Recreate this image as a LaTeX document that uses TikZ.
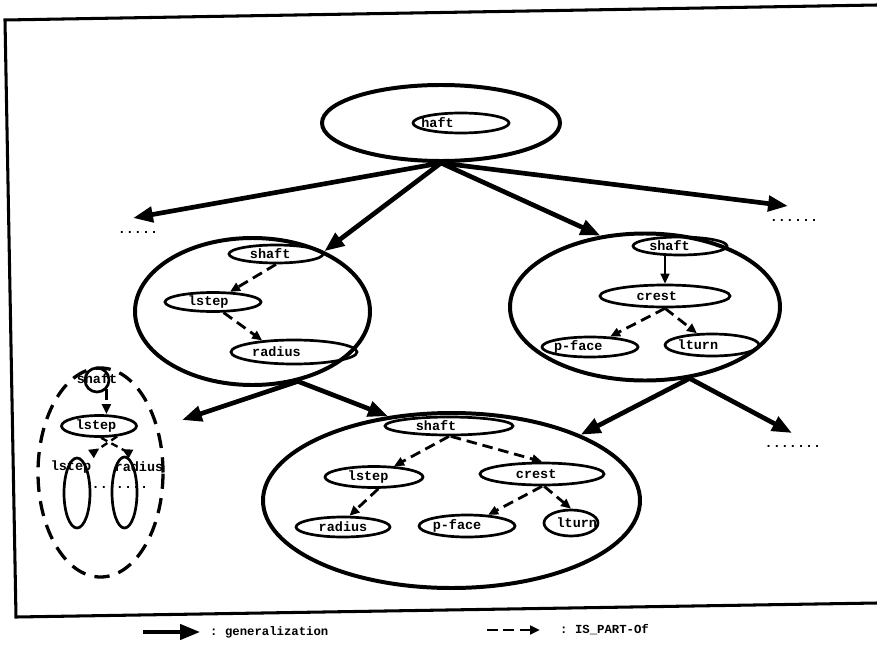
\documentclass[tikz,border=0pt]{standalone}
\usepackage{fontspec}
\setmonofont{Liberation Mono}
\usetikzlibrary{arrows.meta,shapes.geometric}

\begin{document}
\begin{tikzpicture}[x=0.03cm,y=-0.03cm,
  lbl/.style={font=\ttfamily\bfseries\fontsize{11.5}{13}\selectfont, inner sep=0pt},
  leg/.style={font=\ttfamily\bfseries\fontsize{10.5}{12}\selectfont, inner sep=0pt},
  oval/.style n args={2}{ellipse, draw, line width=2.3pt, inner sep=0pt,
    minimum width=#1*0.03cm, minimum height=#2*0.03cm},
  big/.style n args={2}{ellipse, draw, line width=3.4pt, inner sep=0pt,
    minimum width=#1*0.03cm, minimum height=#2*0.03cm},
  gen/.style={line width=4pt, -{Triangle[length=17pt,width=13pt]}},
  part/.style={line width=2.4pt, dash pattern=on 9pt off 5pt,
    -{Triangle[length=8.5pt,width=7.5pt]}},
  backpart/.style={line width=2pt, dash pattern=on 6pt off 4pt,
    -{Triangle[reversed,length=8.5pt,width=8pt]}},
  solidpart/.style={line width=1.8pt, -{Triangle[length=8.5pt,width=7.5pt]}},
]
\useasboundingbox (0,0) rectangle (877,650);

% frame
\draw[line width=2.6pt, line join=miter] (877,5) -- (5,20) -- (16,617) -- (877,603);

% root concept
\node[big={238}{76}] (top) at (441,123) {};
\node[oval={96}{20}, label={[lbl,xshift=-20pt]center:haft}] (h0) at (461,123) {};

% left specialisation
\node[big={235}{147}] (ml) at (252.5,311.5) {};
\node[oval={94}{18},  label={[lbl,xshift=-5pt]center:shaft}]  (s1) at (276,254) {};
\node[oval={96}{19},  label={[lbl,xshift=-4pt]center:lstep}]  (l1) at (213,302) {};
\node[oval={126}{24}, label={[lbl,xshift=-15pt]center:radius}] (r1) at (294,352) {};

% right specialisation
\node[big={270}{147}] (mr) at (645,307) {};
\node[oval={94}{18},  label={[lbl,xshift=-9pt]center:shaft}]  (s2) at (680,246) {};
\node[oval={130}{22}, label={[lbl,xshift=-7pt]center:crest}]  (c2) at (665,296) {};
\node[oval={96}{20},  label={[lbl,xshift=-10pt]center:p-face}] (p2) at (590,347) {};
\node[oval={94}{22},  label={[lbl,xshift=-12pt]center:lturn}]  (t2) at (712,345) {};

% combined concept
\node[big={377}{175}] (bt) at (451.5,500.5) {};
\node[oval={128}{18}, label={[lbl,xshift=-11pt]center:shaft}]  (s3) at (449,426) {};
\node[oval={98}{21},  label={[lbl,xshift=-5pt]center:lstep}]   (l3) at (374,477) {};
\node[oval={124}{22}, label={[lbl,xshift=-5pt]center:crest}]   (c3) at (542,474) {};
\node[oval={94}{20},  label={[lbl]center:radius}]              (r3) at (343,527) {};
\node[oval={96}{22},  label={[lbl,xshift=-8.5pt]center:p-face}] (p3) at (467,526) {};
\node[oval={54}{26},  label={[lbl,xshift=5pt]center:lturn}]    (t3) at (571,523) {};

% small inset on the left
\node[lbl] (tl) at (71,467) {lstep};
\node[lbl] (tr) at (139,467) {radius};
\node[lbl, anchor=base] (dd) at (120,488) {.......};
\node[lbl] (tc) at (97,379) {shaft};
\node[circle, draw, line width=2.3pt, minimum size=24*0.03cm, inner sep=0pt] (cc) at (97,380) {};
\node[oval={75}{21}, label={[lbl,xshift=-2.5pt]center:lstep}] (ll) at (99,426) {};
\node[oval={26}{70}] (e1) at (77,493) {};
\node[oval={25}{71}] (e2) at (124.5,492.5) {};
\node[ellipse, draw, line width=2.8pt, dash pattern=on 13pt off 8pt, inner sep=0pt,
  minimum width=125*0.03cm, minimum height=209*0.03cm] (ld) at (100.5,472.5) {};
\coordinate (k1) at (91,454);
\coordinate (k2) at (131,454);
\draw[part] (cc.south east) -- (cc.south east |- ll.north);
\draw[backpart] (ll.-30) -- (k1);
\draw[backpart] (ll.-80) -- (k2);

% continuation marks
\node[lbl, anchor=base] (dl0) at (138,233) {.....};
\node[lbl, anchor=base] (dr0) at (794,221) {......};
\node[lbl, anchor=base] (dr1) at (793,447) {.......};
\coordinate (dl) at (133,218);
\coordinate (dr) at (788,206);
\coordinate (dl2) at (182,420);
\coordinate (dr2) at (792,433);

% generalization links
\draw[gen] (top.south) -- (dl);
\draw[gen] (top.south) -- (ml.40);
\draw[gen] (top.south) -- (mr.122);
\draw[gen] (top.south) -- (dr);
\draw[gen] (ml.-57) -- (dl2);
\draw[gen] (ml.-57) -- (bt.127);
\draw[gen] (mr.-58) -- (bt.27);
\draw[gen] (mr.-58) -- (dr2);

% part-of links
\draw[part] (s1.south) -- (l1);
\draw[part] (l1.-45) -- (r1.160);
\draw[solidpart] (c2.north |- s2.south) -- (c2.north);
\draw[part] (c2.south) -- (p2);
\draw[part] (c2.south) -- (t2);
\draw[part] (s3.south) -- (l3);
\draw[part] (s3.-80) -- (c3.north);
\draw[part] (l3.-70) -- (r3.60);
\draw[part] (c3.south) -- (p3);
\draw[part] (c3.-80) -- (t3.north);

% legend
\coordinate (ga) at (143,632);
\coordinate (gb) at (200,632);
\node[leg, anchor=west] (gl) at (210,632) {: generalization};
\draw[gen, line width=3pt] (ga) -- (gb);
\coordinate (pa) at (487,630);
\coordinate (pb) at (540,630);
\node[leg, anchor=west] (pl) at (560,630) {: IS\_PART-Of};
\draw[part] (pa) -- (pb);
\end{tikzpicture}
\end{document}
